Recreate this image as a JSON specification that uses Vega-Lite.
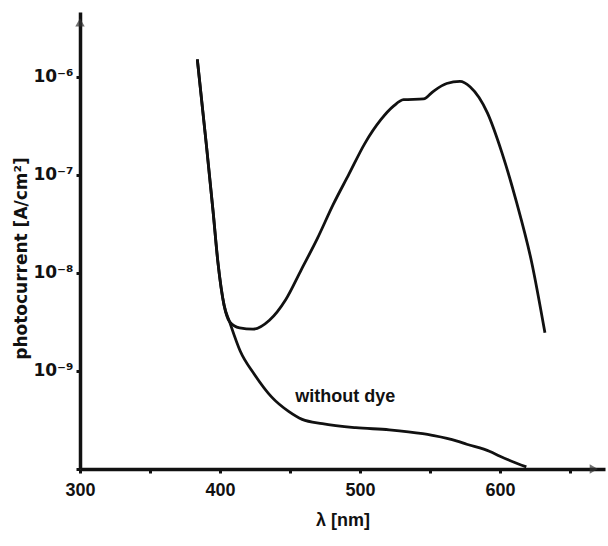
{
  "$schema": "https://vega.github.io/schema/vega-lite/v6.json",
  "width": 525,
  "height": 457,
  "autosize": {"type": "none"},
  "padding": {"left": 80, "top": 12, "right": 3, "bottom": 77},
  "background": "white",
  "config": {
    "view": {"stroke": null},
    "font": "Liberation Sans",
    "axis": {"grid": false, "domainColor": "#111", "tickColor": "#111", "labelColor": "#111", "titleColor": "#111"}
  },
  "datasets": {
    "curves": [
      {"series": "with dye", "lambda": 383.8, "current": 1.51e-6},
      {"series": "with dye", "lambda": 390.3, "current": 2.0e-7},
      {"series": "with dye", "lambda": 395.1, "current": 4.19e-8},
      {"series": "with dye", "lambda": 398.5, "current": 1.29e-8},
      {"series": "with dye", "lambda": 402.9, "current": 4.7e-9},
      {"series": "with dye", "lambda": 406.8, "current": 3.19e-9},
      {"series": "with dye", "lambda": 414.0, "current": 2.75e-9},
      {"series": "with dye", "lambda": 423.6, "current": 2.67e-9},
      {"series": "with dye", "lambda": 435.3, "current": 3.29e-9},
      {"series": "with dye", "lambda": 446.9, "current": 5.33e-9},
      {"series": "with dye", "lambda": 458.2, "current": 1.09e-8},
      {"series": "with dye", "lambda": 469.5, "current": 2.24e-8},
      {"series": "with dye", "lambda": 480.8, "current": 4.98e-8},
      {"series": "with dye", "lambda": 492.1, "current": 1.02e-7},
      {"series": "with dye", "lambda": 503.4, "current": 2.09e-7},
      {"series": "with dye", "lambda": 514.9, "current": 3.66e-7},
      {"series": "with dye", "lambda": 524.1, "current": 5.06e-7},
      {"series": "with dye", "lambda": 531.1, "current": 5.86e-7},
      {"series": "with dye", "lambda": 545.4, "current": 5.97e-7},
      {"series": "with dye", "lambda": 552.4, "current": 7.14e-7},
      {"series": "with dye", "lambda": 561.9, "current": 8.57e-7},
      {"series": "with dye", "lambda": 571.4, "current": 9.02e-7},
      {"series": "with dye", "lambda": 578.6, "current": 7.94e-7},
      {"series": "with dye", "lambda": 591.0, "current": 4.3e-7},
      {"series": "with dye", "lambda": 601.3, "current": 1.7e-7},
      {"series": "with dye", "lambda": 611.8, "current": 5.28e-8},
      {"series": "with dye", "lambda": 622.5, "current": 1.31e-8},
      {"series": "with dye", "lambda": 632.1, "current": 2.45e-9},
      {"series": "without dye", "lambda": 383.8, "current": 1.51e-6},
      {"series": "without dye", "lambda": 390.3, "current": 2.0e-7},
      {"series": "without dye", "lambda": 395.1, "current": 4.19e-8},
      {"series": "without dye", "lambda": 398.5, "current": 1.29e-8},
      {"series": "without dye", "lambda": 402.9, "current": 4.7e-9},
      {"series": "without dye", "lambda": 406.8, "current": 3.19e-9},
      {"series": "without dye", "lambda": 414.5, "current": 1.59e-9},
      {"series": "without dye", "lambda": 424.5, "current": 9.27e-10},
      {"series": "without dye", "lambda": 436.8, "current": 5.44e-10},
      {"series": "without dye", "lambda": 449.0, "current": 3.87e-10},
      {"series": "without dye", "lambda": 458.7, "current": 3.21e-10},
      {"series": "without dye", "lambda": 473.1, "current": 2.9e-10},
      {"series": "without dye", "lambda": 497.0, "current": 2.64e-10},
      {"series": "without dye", "lambda": 520.9, "current": 2.51e-10},
      {"series": "without dye", "lambda": 544.8, "current": 2.29e-10},
      {"series": "without dye", "lambda": 551.7, "current": 2.2e-10},
      {"series": "without dye", "lambda": 568.8, "current": 1.94e-10},
      {"series": "without dye", "lambda": 576.2, "current": 1.79e-10},
      {"series": "without dye", "lambda": 592.8, "current": 1.51e-10},
      {"series": "without dye", "lambda": 600.0, "current": 1.35e-10},
      {"series": "without dye", "lambda": 618.8, "current": 1.05e-10}
    ],
    "label": [
      {"lambda": 489.5, "current": 5.4e-10, "text": "without dye"}
    ],
    "xArrow": [{"lambda": 667, "current": 1e-10}],
    "yArrow": [{"lambda": 300, "current": 3.6e-6}]
  },
  "layer": [
    {
      "data": {"name": "curves"},
      "mark": {"type": "line", "interpolate": "monotone", "color": "#111", "strokeWidth": 2.8},
      "encoding": {
        "x": {
          "field": "lambda", "type": "quantitative",
          "scale": {"domain": [300, 675], "nice": false, "zero": false},
          "axis": {
            "values": [300, 350, 400, 450, 500, 550, 600, 650],
            "labelExpr": "datum.value % 100 == 0 ? datum.label : ''",
            "domainWidth": 3.5, "tickSize": 4, "tickWidth": 3,
            "labelFontSize": 18, "labelFontWeight": "bold", "labelPadding": 8, "labelFlush": false,
            "title": "λ [nm]", "titleFontSize": 18, "titleFontWeight": "bold", "titlePadding": 12
          }
        },
        "y": {
          "field": "current", "type": "quantitative",
          "scale": {"type": "log", "domain": [1e-10, 4.6e-6], "nice": false},
          "axis": {
            "values": [1e-10, 1e-9, 1e-8, 1e-7, 1e-6],
            "labelExpr": "datum.value > 5e-10 && datum.value < 5e-9 ? '10⁻⁹' : datum.value > 5e-9 && datum.value < 5e-8 ? '10⁻⁸' : datum.value > 5e-8 && datum.value < 5e-7 ? '10⁻⁷' : datum.value > 5e-7 && datum.value < 5e-6 ? '10⁻⁶' : ''",
            "domainWidth": 3.5, "tickSize": 4, "tickWidth": 3,
            "labelFont": "DejaVu Sans", "labelFontSize": 17, "labelFontWeight": "bold", "labelPadding": 3,
            "title": "photocurrent [A/cm²]", "titleFont": "DejaVu Sans", "titleFontSize": 17, "titleFontWeight": "bold",
            "titleX": -50, "titleY": 246
          }
        },
        "detail": {"field": "series"}
      }
    },
    {
      "data": {"name": "label"},
      "mark": {"type": "text", "fontSize": 18, "fontWeight": "bold", "color": "#111", "align": "center", "baseline": "middle"},
      "encoding": {
        "x": {"field": "lambda", "type": "quantitative"},
        "y": {"field": "current", "type": "quantitative"},
        "text": {"field": "text"}
      }
    },
    {
      "data": {"name": "xArrow"},
      "mark": {"type": "point", "shape": "triangle-right", "filled": true, "color": "#333", "size": 90},
      "encoding": {
        "x": {"field": "lambda", "type": "quantitative"},
        "y": {"field": "current", "type": "quantitative"}
      }
    },
    {
      "data": {"name": "yArrow"},
      "mark": {"type": "point", "shape": "triangle-up", "filled": true, "color": "#333", "size": 90},
      "encoding": {
        "x": {"field": "lambda", "type": "quantitative"},
        "y": {"field": "current", "type": "quantitative"}
      }
    }
  ]
}
